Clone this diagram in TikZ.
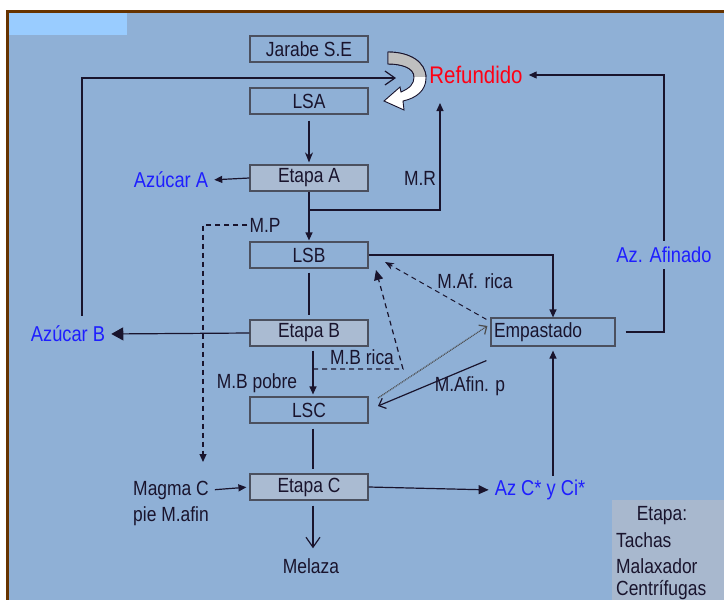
\documentclass[tikz,border=0pt]{standalone}
\usepackage{fontspec}
\setmainfont{Liberation Sans}[FakeStretch=0.85]
\usetikzlibrary{arrows.meta,calc}
\definecolor{bg}{RGB}{143,176,214}
\definecolor{lbox}{RGB}{153,204,255}
\definecolor{etapafill}{RGB}{170,187,210}
\definecolor{framec}{RGB}{102,51,0}
\definecolor{ink}{RGB}{25,20,45}
\definecolor{boxline}{RGB}{75,80,95}
\definecolor{bluet}{RGB}{30,30,255}
\definecolor{redt}{RGB}{255,0,20}
\definecolor{legfill}{RGB}{168,184,206}
\begin{document}
\begin{tikzpicture}[x=1pt,y=-1pt,
  box/.style={draw=boxline, line width=1.2pt, minimum width=118pt, minimum height=26pt, inner sep=0pt, font=\fontsize{20.5}{22}\selectfont, text=ink},
  etapa/.style={box, fill=etapafill},
  lbl/.style={font=\fontsize{20.5}{22}\selectfont, text=ink, inner sep=2pt},
  blbl/.style={font=\fontsize{21.5}{23}\selectfont, text=bluet, inner sep=2pt},
  con/.style={draw=ink, line width=1.2pt},
  arr/.style={con, -{Triangle[length=8pt,width=7pt]}},
  bigarr/.style={con, -{Triangle[length=12pt,width=13pt]}},
  stl/.style={con, -{Stealth[length=10pt,width=8pt]}},
  openarr/.style={con, -{Straight Barb[length=10pt,width=14pt]}},
  dsh/.style={dash pattern=on 5pt off 4pt},
  dtt/.style={dash pattern=on 1pt off 0.8pt}
]
\useasboundingbox (0,0) rectangle (724,600);
\fill[white] (0,0) rectangle (724,600);
\fill[framec] (6,10) rectangle (724,600);
\fill[bg] (9,13) rectangle (724,600);
\fill[lbox] (9,13) rectangle (127,35);

% boxes
\node[box] (jar) at (309,49) {Jarabe S.E};
\node[box] (lsa) at (309,101) {LSA};
\node[etapa] (ea) at (309,178) {Etapa A};
\node[box] (lsb) at (309,255) {LSB};
\node[etapa] (eb) at (309,333) {Etapa B};
\node[box] (lsc) at (309,410) {LSC};
\node[etapa] (ec) at (309,487) {Etapa C};
\node[box, minimum width=124pt, minimum height=28pt, text width=118pt, align=left] (emp) at (553,332) {Empastado};

% labels
\node[font=\fontsize{24}{26}\selectfont, text=redt, inner sep=2pt] (ref) at (476,75) {Refundido};
\node[blbl] (azA) at (171,180) {Azúcar A};
\node[blbl] (azB) at (68,334) {Azúcar B};
\node[blbl, inner sep=6pt] (afin) at (664,255) {Az. Afinado};
\node[blbl] (azC) at (540,490) {Az C* y Ci*};
\node[lbl] (mr) at (420,178) {M.R};
\node[lbl] (mp) at (265,225) {M.P};
\node[lbl] (mafr) at (475,281) {M.Af. rica};
\node[lbl] (mbr) at (362,357) {M.B rica};
\node[lbl] (mbp) at (257,383) {M.B pobre};
\node[lbl] (mafp) at (470,386) {M.Afin. p};
\node[lbl] (magma) at (171,490) {Magma C};
\node[lbl] (pie) at (171,516) {pie M.afin};
\node[lbl] (mel) at (311,566) {Melaza};

% legend
\fill[legfill] (612,500) rectangle (724,600);
\node[lbl] (legt) at (662,516) {Etapa:};
\node[lbl, anchor=west] (leg1) at (614,540) {Tachas};
\node[lbl, anchor=west] (leg2) at (614,566) {Malaxador};
\node[lbl, anchor=west] (leg3) at (614,590) {Centrífugas};

% curved block arrow
\coordinate (cv) at (396,78);
\begin{scope}
\path[fill=white, draw=ink, line width=0.9pt] (388,52) .. controls (410,52) and (426,62) .. (426,78) .. controls (426,90) and (417,98) .. (403,101) -- (404,110) -- (384,101) -- (400,87) -- (401,92) .. controls (410,88) and (414,84) .. (414,77) .. controls (414,68) and (402,64) .. (388,64) -- cycle;
\clip (380,40) rectangle (430,76);
\path[fill=black!25, draw=ink, line width=0.9pt] (388,52) .. controls (410,52) and (426,62) .. (426,78) .. controls (426,90) and (417,98) .. (403,101) -- (404,110) -- (384,101) -- (400,87) -- (401,92) .. controls (410,88) and (414,84) .. (414,77) .. controls (414,68) and (402,64) .. (388,64) -- cycle;
\end{scope}

% connectors
\draw[stl, shorten <=6pt, shorten >=2pt] (lsa) -- (ea);
\draw[arr, shorten >=4pt] (ea.west) -- (azA.east);
\coordinate (j1) at (309,210);
\coordinate (mrtip) at (440,103);
\draw[arr, shorten >=1pt] (ea) -- (lsb);
\draw[arr] (j1) -| (mrtip);
\draw[openarr, shorten <=8pt] ([xshift=14pt]azB.north) |- (cv);
\draw[con, shorten <=10pt] (emp.east) -| (afin.south);
\draw[arr, shorten >=4pt] (afin.north) |- (ref.east);
\coordinate (mpend) at (203,462);
\draw[con, dsh, -{Triangle[length=8pt,width=7pt]}] (mp.west) -| (mpend);
\draw[arr] (lsb.east) -| (emp.north);
\draw[con, shorten <=4pt, shorten >=4pt] (lsb) -- (eb);
\draw[bigarr, shorten >=4pt] (eb.west) -- (azB.east);
\draw[arr, shorten <=4pt, shorten >=2pt] ([xshift=4pt]eb.south) -- ([xshift=4pt]lsc.north);
\coordinate (mbr1) at (313,369);
\coordinate (mbr2) at (403,369);
\coordinate (mbrtip) at (376,270);
\draw[con, dsh, -{Triangle[length=10pt,width=9pt]}] (mbr1) -- (mbr2) -- (mbrtip);
\coordinate (maftip) at (385,262);
\draw[con, dsh, line width=1pt, -{Stealth[length=9pt,width=7pt]}] ([shift={(-4pt,-2pt)}]emp.north west) -- (maftip);
\coordinate (dtst) at (378,398);
\draw[draw=black!70, dtt, line width=1.2pt, -{Straight Barb[length=6pt,width=11pt]}] (dtst) -- ([shift={(-3pt,6pt)}]emp.west);
\coordinate (afpend) at (378,406);
\draw[con, -{Straight Barb[length=6pt,width=11pt]}] ([shift={(-4pt,-14pt)}]emp.south west) -- (afpend);
\draw[con, shorten <=5pt, shorten >=4pt] ([xshift=4pt]lsc.south) -- ([xshift=4pt]ec.north);
\draw[arr, shorten <=4pt, shorten >=3pt] (magma.east) -- (ec.west);
\draw[con, -{Triangle[length=10pt,width=9pt]}, shorten >=4pt] (ec.east) -- (azC.west);
\draw[openarr, shorten <=5pt, shorten >=8pt] ([xshift=4pt]ec.south) -- ([xshift=2pt]mel.north);
\draw[arr, shorten <=2pt, shorten >=4pt] (emp.south |- azC.north) -- (emp.south);
\end{tikzpicture}
\end{document}
